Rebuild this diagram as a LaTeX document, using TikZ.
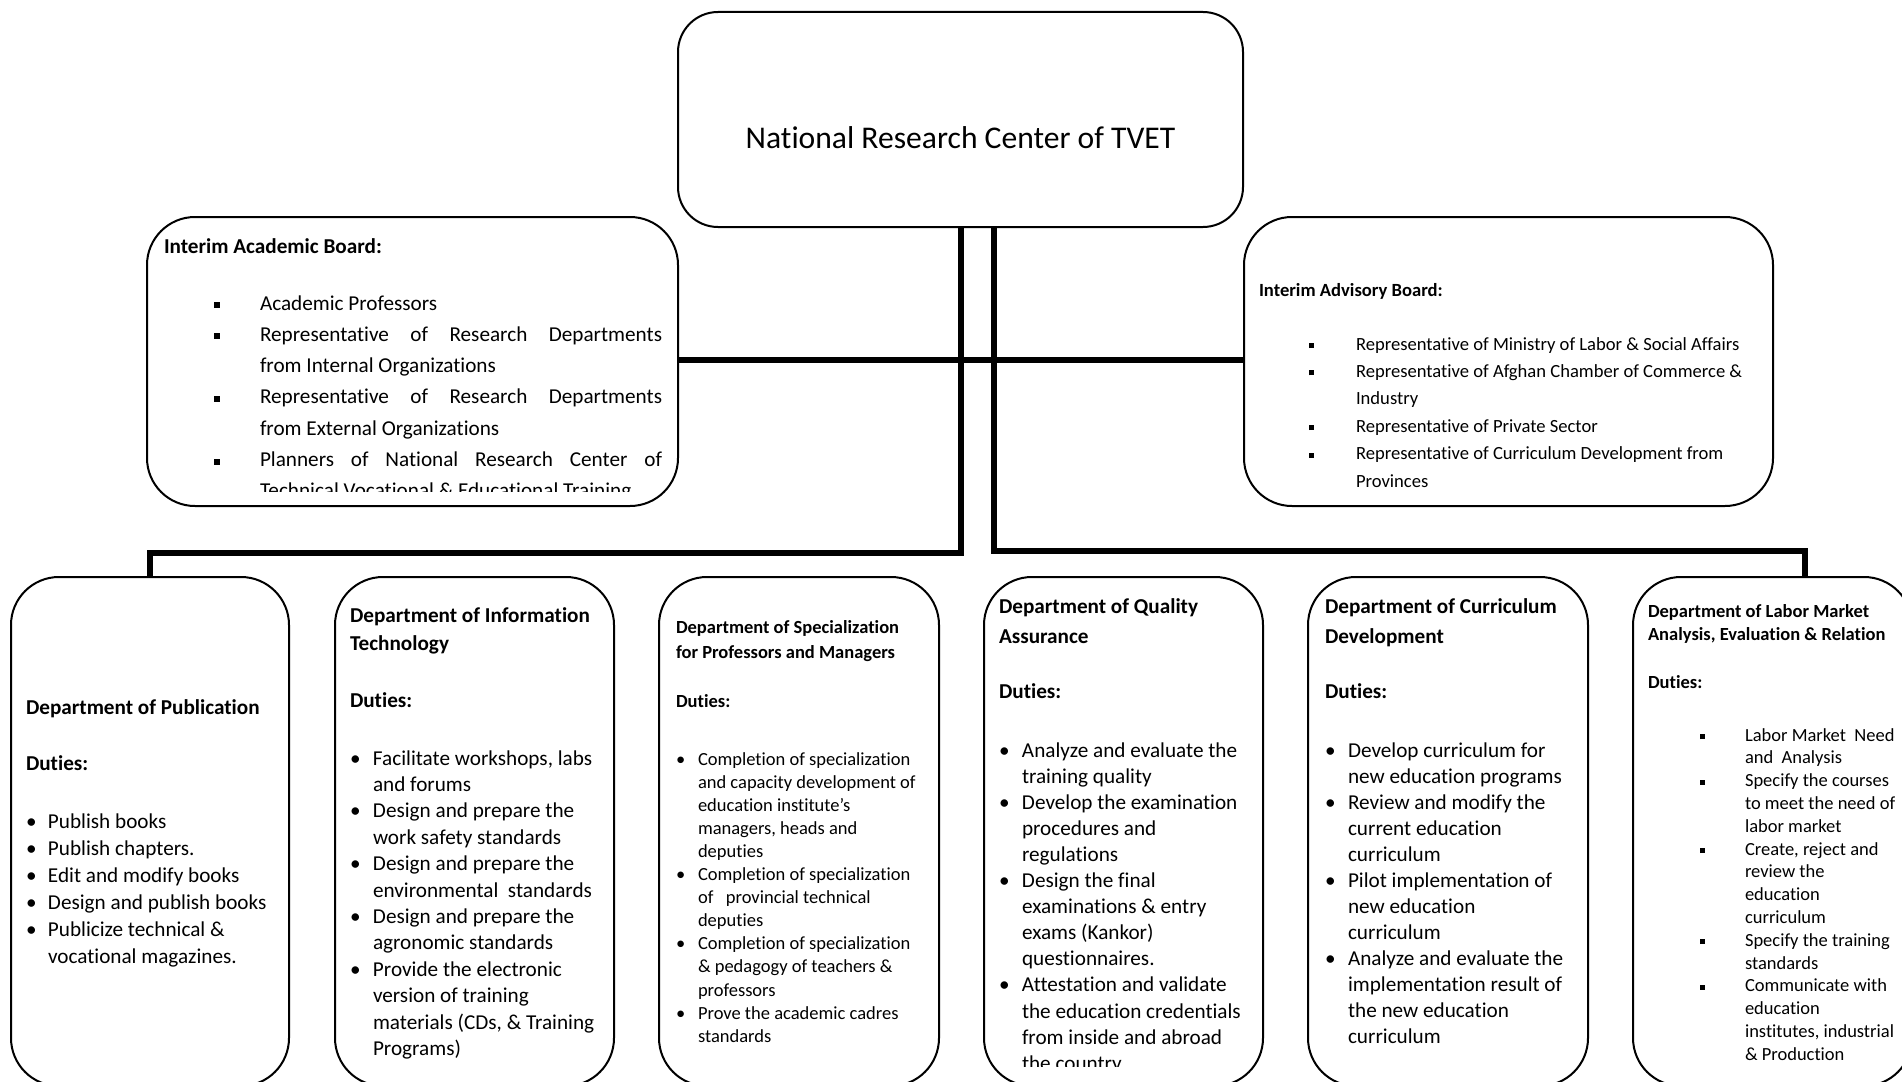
\documentclass[tikz,border=0pt]{standalone}
\usepackage{fontspec}
\setmainfont{Carlito}[Ligatures=NoCommon, Contextuals=NoAlternate]
\newlength\indw
\newcommand\bsym{}
\newcommand\itm[1]{\hbox{\makebox[\indw][l]{\bsym}#1}}
\newcommand\cnt[1]{\hbox{\hspace*{\indw}#1}}
\newcommand\pln[1]{\hbox{#1}}
\newcommand\bsk[1]{\baselineskip=#1pt\relax}
\newcommand\jst[1]{\makebox[402pt][s]{#1}}
\tikzset{
  box/.style={draw, line width=2pt, rounded corners=48pt, fill=white, inner sep=0pt, outer sep=0pt, rectangle, anchor=north west},
  conn/.style={line width=6pt},
  txt/.style={anchor=base west, inner sep=0pt, outer sep=0pt}
}
\begin{document}
\begin{tikzpicture}[x=1pt,y=-1pt]
\useasboundingbox (0,0) rectangle (1902,1081);
\clip (0,0) rectangle (1902,1081);
\fill[white] (0,0) rectangle (1902,1081);

% boxes
\node[box, rounded corners=40pt, minimum width=565pt, minimum height=215pt] (top) at (678,12) {};
\node[box, minimum width=531pt, minimum height=289pt] (lb) at (147,217) {};
\node[box, minimum width=529pt, minimum height=289pt] (rb) at (1244,217) {};
\node[box, minimum width=278pt, minimum height=509pt] (b1) at (11,577) {};
\node[box, minimum width=279pt, minimum height=509pt] (b2) at (335,577) {};
\node[box, minimum width=280pt, minimum height=509pt] (b3) at (659,577) {};
\node[box, minimum width=279pt, minimum height=509pt] (b4) at (984,577) {};
\node[box, minimum width=280pt, minimum height=509pt] (b5) at (1308,577) {};
\node[box, minimum width=279pt, minimum height=509pt] (b6) at (1633,577) {};

% connectors
\coordinate (hl) at (0,360);
\coordinate (jA) at (961,553);
\coordinate (jB) at (994,551);
\coordinate (d6) at (1805,577);
\draw[conn] (lb.east |- hl) -- (rb.west |- hl);
\draw[conn] (top.south -| jA) -- (jA) -| (b1.north);
\draw[conn] (top.south -| jB) -- (jB) -| (d6);

% title
\node[anchor=base, inner sep=0pt, font=\fontsize{31.6}{38}\selectfont] (title) at (960.5,148) {National Research Center of TVET};

% left board
\begin{scope}
\clip (147,217) rectangle (678,491);
\node[txt] (lbt) at (164,253) {\vtop{\fontsize{21.2}{31.3}\selectfont
\setlength\indw{96pt}\renewcommand\bsym{\hspace*{50pt}\rule[2pt]{6pt}{6pt}}%
\pln{\bfseries Interim Academic Board:}
\bsk{57}\itm{Academic Professors}
\bsk{31.3}\itm{\jst{Representative of Research Departments}}
\cnt{from Internal Organizations}
\itm{\jst{Representative of Research Departments}}
\cnt{from External Organizations}
\itm{\jst{Planners of National Research Center of}}
\cnt{Technical Vocational \& Educational Training}}};
\end{scope}

% right board
\node[txt] (rbt) at (1259,296) {\vtop{\fontsize{18.6}{27.4}\selectfont
\setlength\indw{97pt}\renewcommand\bsym{\hspace*{49.5pt}\rule[2pt]{5pt}{5pt}}%
\pln{\bfseries Interim Advisory Board:}
\bsk{54}\itm{Representative of Ministry of Labor \& Social Affairs}
\bsk{27.4}\itm{Representative of Afghan Chamber of Commerce \&}
\cnt{Industry}
\itm{Representative of Private Sector}
\itm{Representative of Curriculum Development from}
\cnt{Provinces}}};

% box 1
\node[txt] (t1) at (26,714) {\vtop{\fontsize{21.2}{27}\selectfont
\setlength\indw{22pt}\renewcommand\bsym{\textbullet}%
\pln{\bfseries Department of Publication}
\bsk{56}\pln{\bfseries Duties:}
\bsk{58}\itm{Publish books}
\bsk{27}\itm{Publish chapters.}
\itm{Edit and modify books}
\itm{Design and publish books}
\itm{Publicize technical \&}
\cnt{vocational magazines.}}};

% box 2
\node[txt] (t2) at (350,622) {\vtop{\fontsize{21.2}{28}\selectfont
\setlength\indw{23pt}\renewcommand\bsym{\textbullet}%
\pln{\bfseries Department of Information}
\pln{\bfseries Technology}
\bsk{57}\pln{\bfseries Duties:}
\bsk{58}\itm{Facilitate workshops, labs}
\bsk{26.4}\cnt{and forums}
\itm{Design and prepare the}
\cnt{work safety standards}
\itm{Design and prepare the}
\cnt{environmental\ \ standards}
\itm{Design and prepare the}
\cnt{agronomic standards}
\itm{Provide the electronic}
\cnt{version of training}
\cnt{materials (CDs, \& Training}
\cnt{Programs)}}};

% box 3
\node[txt] (t3) at (676,633) {\vtop{\fontsize{18.5}{25}\selectfont
\setlength\indw{22pt}\renewcommand\bsym{\textbullet}%
\pln{\bfseries Department of Specialization}
\pln{\bfseries for Professors and Managers}
\bsk{49}\pln{\bfseries Duties:}
\bsk{58}\itm{Completion of specialization}
\bsk{23.1}\cnt{and capacity development of}
\cnt{education institute’s}
\cnt{managers, heads and}
\cnt{deputies}
\itm{Completion of specialization}
\cnt{of\ \ \ provincial technical}
\cnt{deputies}
\itm{Completion of specialization}
\cnt{\& pedagogy of teachers \&}
\cnt{professors}
\itm{Prove the academic cadres}
\cnt{standards}}};

% box 4
\begin{scope}
\clip (984,577) rectangle (1263,1066);
\node[txt] (t4) at (999,613) {\vtop{\fontsize{21.2}{30}\selectfont
\setlength\indw{23pt}\renewcommand\bsym{\textbullet}%
\pln{\bfseries Department of Quality}
\pln{\bfseries Assurance}
\bsk{55}\pln{\bfseries Duties:}
\bsk{59}\itm{Analyze and evaluate the}
\bsk{26.1}\cnt{training quality}
\itm{Develop the examination}
\cnt{procedures and}
\cnt{regulations}
\itm{Design the final}
\cnt{examinations \& entry}
\cnt{exams (Kankor)}
\cnt{questionnaires.}
\itm{Attestation and validate}
\cnt{the education credentials}
\cnt{from inside and abroad}
\cnt{the country}}};
\end{scope}

% box 5
\node[txt] (t5) at (1325,613) {\vtop{\fontsize{21.2}{30}\selectfont
\setlength\indw{23pt}\renewcommand\bsym{\textbullet}%
\pln{\bfseries Department of Curriculum}
\pln{\bfseries Development}
\bsk{55}\pln{\bfseries Duties:}
\bsk{59}\itm{Develop curriculum for}
\bsk{26}\cnt{new education programs}
\itm{Review and modify the}
\cnt{current education}
\cnt{curriculum}
\itm{Pilot implementation of}
\cnt{new education}
\cnt{curriculum}
\itm{Analyze and evaluate the}
\cnt{implementation result of}
\cnt{the new education}
\cnt{curriculum}}};

% box 6
\node[txt] (t6) at (1648,617) {\vtop{\fontsize{18.5}{23}\selectfont
\setlength\indw{97pt}\renewcommand\bsym{\hspace*{51.5pt}\rule[2pt]{5pt}{5pt}}%
\pln{\bfseries Department of Labor Market}
\pln{\bfseries Analysis, Evaluation \& Relation}
\bsk{48}\pln{\bfseries Duties:}
\bsk{53}\itm{Labor Market\ \ Need}
\bsk{22.8}\cnt{and\ \ Analysis}
\itm{Specify the courses}
\cnt{to meet the need of}
\cnt{labor market}
\itm{Create, reject and}
\cnt{review the}
\cnt{education}
\cnt{curriculum}
\itm{Specify the training}
\cnt{standards}
\itm{Communicate with}
\cnt{education}
\cnt{institutes, industrial}
\cnt{\& Production}}};
\end{tikzpicture}
\end{document}
